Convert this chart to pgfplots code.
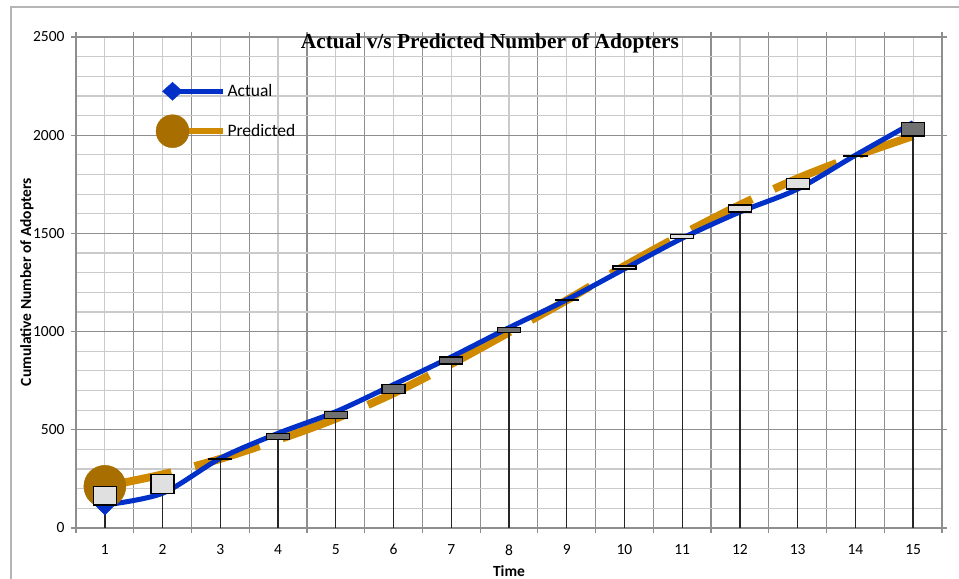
\documentclass[border=0pt]{standalone}
\usepackage{pgfplots}
\pgfplotsset{compat=1.18}
\usepackage{pgfplotstable}
\usepackage{fontspec}
\setmainfont{Carlito}
\newfontfamily\titlefont{Liberation Serif}

\definecolor{actblue}{HTML}{0030C8}
\definecolor{predorange}{HTML}{D08A00}
\definecolor{predbrown}{HTML}{A86E00}
\definecolor{gridmajor}{HTML}{8E8E8E}
\definecolor{gridminor}{HTML}{CACACA}
\definecolor{upfill}{HTML}{E0E0E0}
\definecolor{downfill}{HTML}{707070}
\definecolor{framegray}{HTML}{B5B5B5}

% cumulative adopters, actual vs predicted
\pgfplotstableread{
t  act  pred
1  117  212
2  177  273
3  355  352
4  482  449
5  592  557
6  730  686
7  871  835
8  1020 996
9  1162 1160
10 1319 1334
11 1475 1495
12 1609 1645
13 1726 1780
14 1898 1894
15 2064 1996
}\adopters
\pgfplotstablecreatecol[create col/expr={min(\thisrow{act},\thisrow{pred})}]{lo}{\adopters}
\pgfplotstablecreatecol[create col/expr={max(\thisrow{act},\thisrow{pred})}]{hi}{\adopters}
\pgfplotstablecreatecol[create col/expr={max(\thisrow{pred}-\thisrow{act},0)}]{up}{\adopters}
\pgfplotstablecreatecol[create col/expr={max(\thisrow{act}-\thisrow{pred},0)}]{down}{\adopters}

\pgfplotsset{
  frame/.style={at={(76bp,51bp)}, anchor=south west, scale only axis,
    width=866bp, height=491bp, xmin=0.5, xmax=15.5, ymin=0, ymax=2500},
}

\begin{document}
\begin{tikzpicture}
\path[use as bounding box] (0,0) rectangle (959bp,579bp);
\draw[framegray, line width=1.3bp] (11bp,-5bp) -- (11bp,572bp) -- (970bp,572bp);

\begin{axis}[frame,
  xtick={0.5,1.5,...,15.5},
  xticklabels={1,2,3,4,5,6,7,8,9,10,11,12,13,14,15,{}},
  x tick label style={xshift=28.87bp, yshift=-8bp},
  y tick label style={xshift=-3bp},
  minor xtick={1,...,15},
  ytick={0,500,...,2500},
  minor ytick={100,200,...,2400},
  grid=both,
  major grid style={gridmajor, line width=1.2bp},
  minor grid style={gridminor, line width=1.2bp},
  axis line style={gridmajor, line width=1.2bp},
  tick align=outside, major tick length=5bp, minor tick length=0pt,
  tick style={gridmajor, line width=1.2bp},
  tick label style={font=\fontsize{15.5bp}{18bp}\selectfont},
  /pgf/number format/assume math mode=true,
  /pgf/number format/1000 sep={},
  title={Actual v/s Predicted Number of Adopters},
  title style={at={(0.478,0.9654)}, anchor=base, inner sep=0pt,
    font=\titlefont\bfseries\fontsize{21.4bp}{25bp}\selectfont},
  xlabel={Time},
  xlabel style={at={(0.5,-0.0978)}, anchor=base, inner sep=0pt,
    font=\bfseries\fontsize{15.5bp}{18bp}\selectfont},
  ylabel={Cumulative Number of Adopters},
  ylabel style={at={(-0.0566,0.501)}, anchor=center, inner sep=0pt,
    font=\bfseries\fontsize{15.5bp}{18bp}\selectfont},
  legend style={draw=none, fill=none, at={(0.0885,0.9126)}, anchor=north west,
    font=\fontsize{17.5bp}{21bp}\selectfont, row sep=14bp},
  legend cell align=left,
]
\addlegendimage{legend image code/.code={
  \draw[actblue, line width=5bp] (0bp,0bp) -- (50bp,0bp);
  \fill[actblue] (0bp,9bp) -- (10bp,0bp) -- (0bp,-9bp) -- (-10bp,0bp) -- cycle;}}
\addlegendimage{legend image code/.code={
  \draw[predorange, line width=6bp] (0bp,0bp) -- (50bp,0bp);
  \fill[predbrown] (0bp,0bp) circle (16.5bp);}}
\legend{Actual,Predicted}

\addplot[forget plot, predorange, line width=8bp, smooth, line cap=butt,
  dash pattern=on 68bp off 24bp,
  mark=*, mark indices={1}, mark size=21bp,
  mark options={solid, fill=predbrown, draw=predbrown, line width=0.5bp}]
  table[x=t, y=pred] {\adopters};
\addplot[forget plot, actblue, line width=5bp, smooth,
  mark=diamond*, mark indices={1}, mark size=10bp,
  mark options={solid, fill=actblue, draw=actblue, line width=0.5bp, xscale=1.3}]
  table[x=t, y=act] {\adopters};
\addplot[forget plot, ycomb, black!85, line width=1.3bp, mark=none]
  table[x=t, y=hi] {\adopters};
\end{axis}

% up/down bars between the two series
\begin{axis}[frame, hide axis, ybar stacked, bar width=23bp]
\addplot[draw=none, fill=none] table[x=t, y=lo] {\adopters};
\addplot[fill=upfill, draw=black, line width=1.3bp] table[x=t, y=up] {\adopters};
\addplot[fill=downfill, draw=black, line width=1.3bp] table[x=t, y=down] {\adopters};
\end{axis}
\end{tikzpicture}
\end{document}
